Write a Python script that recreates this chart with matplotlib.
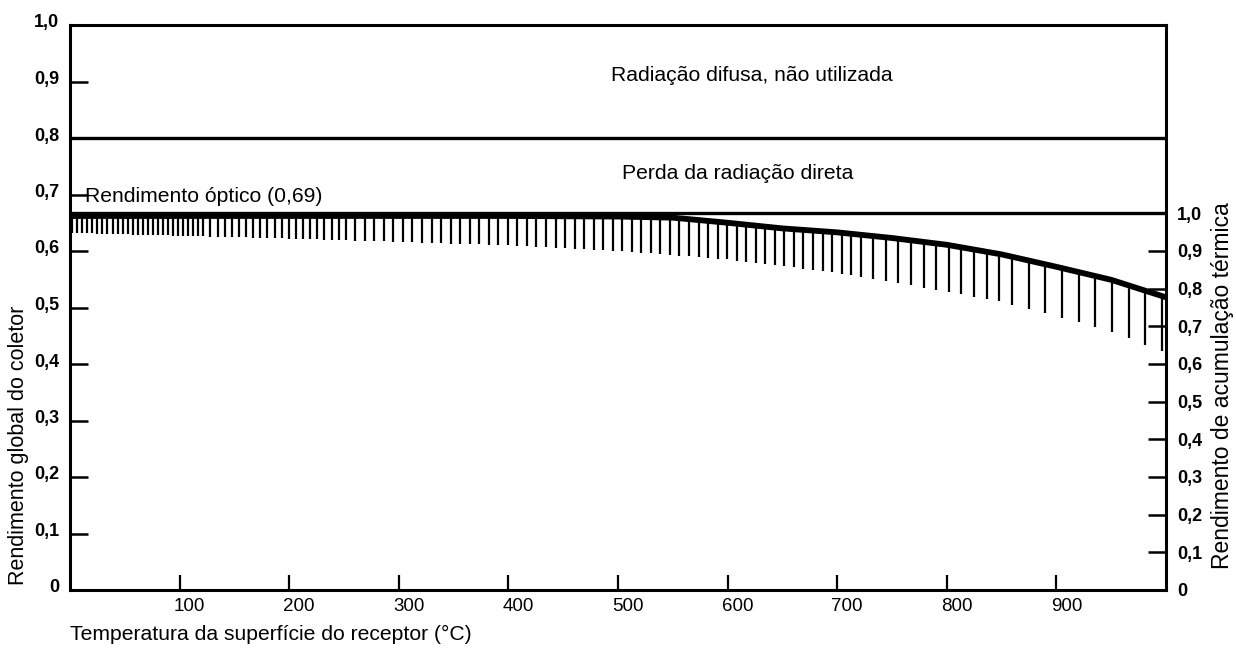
import numpy as np
import matplotlib
matplotlib.use("Agg")
import matplotlib.pyplot as plt
from matplotlib.transforms import ScaledTranslation

plt.rcParams['font.family'] = ['Liberation Sans', 'DejaVu Sans']

# ---- data ----
temperature = [0, 100, 200, 300, 400, 500, 550, 600, 650, 700, 750, 800, 850, 900, 950, 1000]
global_eff = [0.662, 0.662, 0.662, 0.662, 0.662, 0.661, 0.659, 0.650, 0.640, 0.633,
              0.623, 0.611, 0.594, 0.572, 0.549, 0.518]
hatch_bottom = [0.632, 0.627, 0.622, 0.616, 0.610, 0.600, 0.593, 0.585, 0.574, 0.561,
                0.545, 0.528, 0.510, 0.485, 0.457, 0.420]
optical_level = 0.667          # drawn level of "Rendimento óptico (0,69)"
direct_level = 0.8             # border between direct and diffuse radiation
total_level = 1.0
left_ticks = [0, 0.1, 0.2, 0.3, 0.4, 0.5, 0.6, 0.7, 0.8, 0.9, 1.0]
right_ticks = [0, 0.1, 0.2, 0.3, 0.4, 0.5, 0.6, 0.7, 0.8, 0.9, 1.0]
x_ticks = [100, 200, 300, 400, 500, 600, 700, 800, 900]

def fmt(v):
    return "0" if v == 0 else f"{v:.1f}".replace(".", ",")

fig = plt.figure(figsize=(12.36, 6.5), dpi=100)
ax = fig.add_axes([70/1236, 60/650, (1166-70)/1236, (590-25)/650])
ax.set_xlim(0, 1000)
ax.set_ylim(0, 1.0)

# hatch (decorative comb hanging below the curve) - spacing is a style
seg_edges = [120, 250, 720, 850, 1001]
seg_steps = [4.6, 6.5, 8.7, 11.5, 15.2]
hx_list = []
pos = 2.0
while pos < 998:
    k = next(i for i, e in enumerate(seg_edges) if pos < e)
    hx_list.append(pos)
    pos += seg_steps[k]
hx = np.array(hx_list)
top = np.interp(hx, temperature, global_eff)
bot = np.interp(hx, temperature, hatch_bottom)
ax.vlines(hx, bot, top, colors='black', lw=1.6)

ax.plot(temperature, global_eff, color='black', lw=4.2, solid_capstyle='butt',
        solid_joinstyle='round')
ax.axhline(optical_level, color='black', lw=2.4)
ax.axhline(direct_level, color='black', lw=2.4)

for s in ax.spines.values():
    s.set_linewidth(2.2)
    s.set_color('black')

ax.set_yticks(left_ticks)
ax.set_yticklabels([fmt(v) for v in left_ticks], fontsize=13, fontweight='bold')
ax.tick_params(axis='y', direction='in', length=13, width=1.8, pad=8)
ax.set_xticks(x_ticks)
ax.set_xticklabels([str(v) for v in x_ticks], fontsize=13.5)
ax.tick_params(axis='x', direction='in', length=11, width=1.6, pad=6)
for lab in ax.get_xticklabels():
    lab.set_transform(lab.get_transform() + ScaledTranslation(0.10, 0, fig.dpi_scale_trans))
for lab in ax.get_yticklabels():
    lab.set_transform(lab.get_transform() + ScaledTranslation(0, 0.04, fig.dpi_scale_trans))

ax2 = ax.twinx()
ax2.set_ylim(0, total_level / optical_level)
ax2.set_yticks(right_ticks)
ax2.set_yticklabels([fmt(v) for v in right_ticks], fontsize=13, fontweight='bold')
ax2.tick_params(axis='y', direction='in', length=13, width=1.8, pad=8)
for s in ax2.spines.values():
    s.set_visible(False)

ax.text(622, 0.911, "Radiação difusa, não utilizada", ha='center', va='center', fontsize=15.2)
ax.text(609, 0.738, "Perda da radiação direta", ha='center', va='center', fontsize=15.2)
ax.text(14, 0.697, "Rendimento óptico (0,69)", ha='left', va='center', fontsize=15.2)

fig.text(19/1236, 1 - 445/650, "Rendimento global do coletor", rotation=90,
         ha='center', va='center', fontsize=15.5)
fig.text(1222/1236, 1 - 386/650, "Rendimento de acumulação térmica", rotation=90,
         ha='center', va='center', fontsize=16.5)
fig.text(70/1236, 1 - 634/650, "Temperatura da superfície do receptor (°C)",
         ha='left', va='center', fontsize=15.2)

fig.savefig("out.png", dpi=100, facecolor='white')
